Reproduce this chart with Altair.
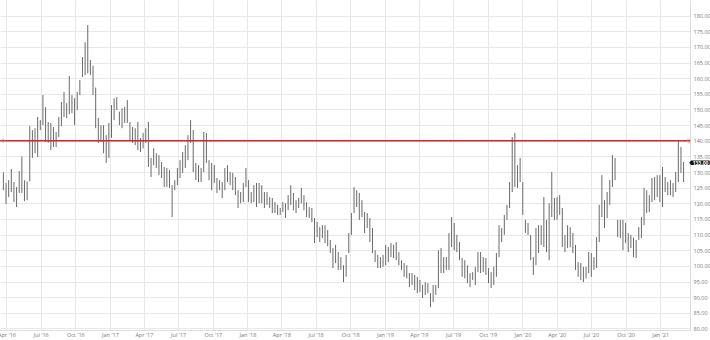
import altair as alt
import pandas as pd

# Weekly highs / lows (segment by segment)
high_a = [129.9,126.5,127.4,131.0,126.8,125.2,130.3,135.0,127.4,127.0,
          144.7,143.4,144.0,147.6,146.6,154.6,150.7,146.0,145.7,144.4,
          142.8,147.6,152.4,155.6,152.0,160.7,154.6,153.6,155.6,159.4,
          166.7,171.5,177.0,165.8,164.0,157.0,147.3,145.0,145.0,141.8,
          145.7,151.4,153.6]
low_a = [124.2,119.8,122.0,123.6,120.4,118.8,123.3,123.3,120.7,121.0,
         127.0,134.5,136.0,134.8,143.4,145.0,139.6,139.3,137.0,138.0,
         138.0,141.2,144.7,147.6,147.3,148.5,148.8,145.0,149.8,154.6,
         160.4,161.0,161.6,161.0,154.6,144.0,139.3,139.6,136.0,132.9,
         134.5,140.9,146.6]

high_b = [154.0,149.3,150.4,150.8,153.0,146.0,144.4,144.0,146.0,140.9,
          142.5,144.0,146.0,134.5,137.6,136.0,135.4,133.2,131.6,131.3,
          130.6,125.8,127.4,131.3,133.8,136.4,138.6,141.8,146.6,143.4,
          132.9,132.2,131.3,142.8,142.5,133.8,132.9,132.2,128.1,127.4,
          126.8,131.3,132.2]
low_b = [149.8,145.0,144.0,145.7,145.7,140.2,139.3,138.6,137.0,136.4,
         137.6,139.3,131.6,128.4,132.2,131.3,129.0,128.1,125.2,125.2,
         124.9,115.6,124.2,125.8,128.1,129.7,131.3,133.8,139.3,130.0,
         127.4,126.8,126.8,130.0,132.9,127.4,124.2,126.5,123.3,124.2,
         121.7,124.2,126.8]

high_c = [130.0,129.7,128.4,124.2,123.6,126.5,131.3,127.4,123.6,125.8,
          126.5,126.5,125.8,123.6,123.6,122.0,121.7,120.4,119.5,118.5,
          120.4,120.0,122.6,125.8,123.3,121.0,121.7,124.9,122.6,120.4,
          118.8,118.5,115.3,114.0,112.4,113.0,113.0,111.5,108.3,105.7,
          106.7,104.4,102.8,100.2]
low_c = [125.8,124.2,122.6,118.5,120.0,120.4,125.2,120.4,120.0,120.4,
         118.8,120.0,120.0,118.5,119.5,118.5,116.9,116.9,116.3,116.3,
         117.2,115.3,117.8,119.5,117.8,116.9,118.5,120.0,117.8,115.6,
         115.3,114.0,107.3,109.2,107.6,108.9,107.3,106.3,104.1,99.3,
         100.9,98.7,98.7,94.8]

high_d = [103.5,110.5,116.9,125.2,124.2,123.3,121.0,117.2,116.9,115.3,
          112.1,105.0,103.5,102.8,103.5,106.7,106.0,107.3,106.7,107.6,
          104.4,101.8,100.9,100.2,97.7,97.7,97.1,96.5,95.5,93.9,
          94.8,94.5,91.3,93.9,93.9,105.0,105.7,102.8,102.8,110.5,
          115.6,113.7,109.9,107.6]
low_d = [96.5,104.1,109.9,116.9,118.8,114.7,115.6,110.5,112.1,107.6,
         104.1,101.2,99.3,99.3,99.7,100.2,101.2,102.8,102.5,101.8,
         100.2,98.7,96.5,96.0,93.2,93.9,92.3,91.3,91.7,89.7,
         90.7,91.3,86.8,88.4,90.7,92.9,97.7,97.7,98.7,98.7,
         106.0,105.0,104.4,101.8]

high_e = [102.5,101.8,100.2,97.7,98.0,99.7,104.4,104.4,102.8,102.5,
          99.3,98.0,99.7,104.1,113.0,112.1,116.3,119.5,126.8,141.2,
          142.5,132.2,134.5,126.8,114.7,113.7,109.9,102.8,112.1,113.0,
          113.0,122.0,114.7,120.0,130.0,121.7,122.0,122.6,118.5,109.9,
          113.0,112.4,110.5]
low_e = [96.5,96.0,94.5,93.2,95.5,93.9,98.0,97.7,98.0,97.1,
         94.5,92.9,93.9,96.5,102.8,107.6,109.9,114.7,118.5,123.6,
         125.2,124.9,126.8,116.3,110.5,109.9,101.8,97.1,100.2,104.1,
         106.7,106.0,104.4,101.8,115.6,114.7,114.7,116.3,106.0,104.4,
         105.7,106.0,104.1]

high_f = [106.7,101.2,100.9,99.7,99.7,104.4,104.1,102.8,109.2,119.5,
          129.0,121.0,123.6,127.4,135.4,134.5,114.7,114.7,114.7,113.7,
          110.5,109.9,109.0,108.3,112.4,115.6,124.9,124.2,122.6,128.1,
          128.4,129.0,129.0,131.6,128.4,126.8,127.4,126.5,130.0,140.2,
          138.0,133.2]
low_f = [98.7,96.5,95.5,94.8,96.0,97.7,96.5,98.7,99.3,107.6,
         115.6,112.1,115.3,119.5,125.2,127.4,109.2,108.9,105.0,107.3,
         104.4,105.7,102.8,102.5,108.3,108.9,113.0,116.9,117.2,120.4,
         121.0,122.0,120.4,118.8,123.6,122.6,122.6,122.0,123.6,126.8,
         129.7,126.8]

first_week = "2016-03-24"
level = [140.0]
last_price = [133.0]
last_label = ["133.00"]
tick_dates = ["2016-04-01", "2016-07-01", "2016-10-01", "2017-01-01", "2017-04-01",
              "2017-07-01", "2017-10-01", "2018-01-01", "2018-04-01", "2018-07-01",
              "2018-10-01", "2019-01-01", "2019-04-01", "2019-07-01", "2019-10-01",
              "2020-01-01", "2020-04-01", "2020-07-01", "2020-10-01", "2021-01-01"]
y_ticks = list(range(80, 185, 5))

high = high_a + high_b + high_c + high_d + high_e + high_f
low = low_a + low_b + low_c + low_d + low_e + low_f
dates = pd.date_range(first_week, periods=len(high), freq="7D")
df = pd.DataFrame({"date": dates.strftime("%Y-%m-%d"), "high": high, "low": low})


def dt(s):
    y, m, d = (int(p) for p in s.split("-"))
    return alt.DateTime(year=y, month=m, date=d)


x_scale = alt.Scale(domain=[dt("2016-03-15"), dt("2021-03-21")])
y_scale = alt.Scale(domain=[79.5, 185], nice=False, zero=False)

x_axis = alt.Axis(values=[dt(s) for s in tick_dates], format="%b '%y", title=None,
                  labelFontSize=5.5, labelColor="#777777", grid=True, gridColor="#e8e8e8",
                  domain=True, domainColor="#dddddd", ticks=False, labelPadding=2,
                  labelFlush=False, labelOverlap=False)
y_axis = alt.Axis(orient="right", values=y_ticks, format=".2f", title=None,
                  labelFontSize=5.5, labelColor="#777777", grid=True, gridColor="#e8e8e8",
                  domain=True, domainColor="#dddddd", ticks=False, labelPadding=3,
                  labelFlush=False, labelOverlap=False)


def Y(field):
    return alt.Y(field, scale=y_scale, axis=y_axis)


bars = alt.Chart(df).mark_rule(color="#6a6a6a", strokeWidth=1).encode(
    x=alt.X("date:T", scale=x_scale, axis=x_axis),
    y=Y("low:Q"),
    y2="high:Q",
)

lvl = pd.DataFrame({"level": level})
red = alt.Chart(lvl).mark_rule(color="#d7262b", strokeWidth=1.6).encode(y=Y("level:Q"))
end_r = alt.Chart(lvl).mark_point(shape="circle", filled=False, color="#e89090", size=14,
                                  strokeWidth=0.8).encode(x=alt.value(689), y=Y("level:Q"))
end_l = alt.Chart(lvl).mark_point(shape="circle", filled=False, color="#aaaaaa", size=12,
                                  strokeWidth=0.8).encode(x=alt.value(3), y=Y("level:Q"))

lp = pd.DataFrame({"p": last_price, "t": last_label})
box = alt.Chart(lp).mark_point(
    shape="M-0.82,-0.22 L0.92,-0.22 Q1,-0.22 1,-0.14 L1,0.14 Q1,0.22 0.92,0.22 L-0.82,0.22 L-1,0 Z",
    filled=True, color="#111111", opacity=1, size=420, strokeWidth=0).encode(
    x=alt.value(699.5), y=Y("p:Q"))
box_txt = alt.Chart(lp).mark_text(color="white", fontSize=5, fontWeight="bold",
                                  align="center", baseline="middle").encode(
    x=alt.value(700.5), y=Y("p:Q"), text="t:N")

chart = alt.layer(bars, red, end_l, end_r, box, box_txt).properties(
    width=690, height=330,
    autosize=alt.AutoSizeParams(type="none"),
    padding={"left": 0, "top": 0, "right": 20, "bottom": 10},
).configure(font="Open Sans").configure_view(stroke=None)

chart.save("out.html", embed_options={"renderer": "svg", "actions": False})
